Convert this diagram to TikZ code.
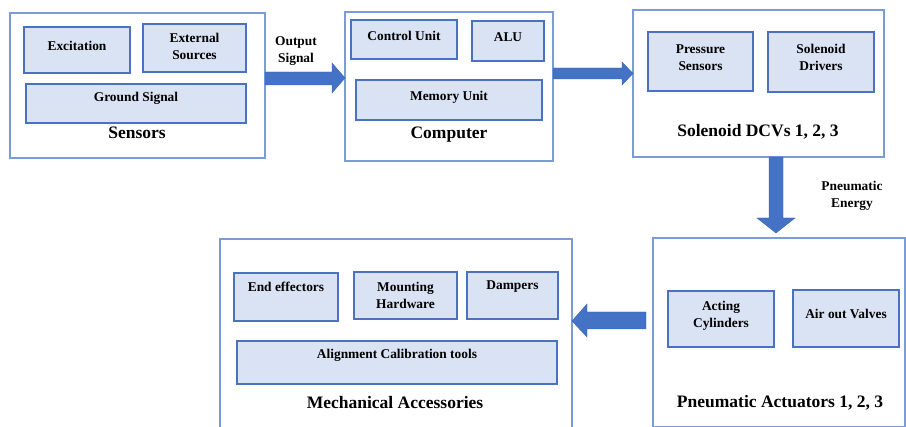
\documentclass[tikz,border=0pt]{standalone}
\usepackage{fontspec}
\setmainfont{Liberation Serif}
\definecolor{ifill}{HTML}{DAE3F3}
\definecolor{iline}{HTML}{4A72C0}
\definecolor{oline}{HTML}{7C9CD8}
\definecolor{afill}{HTML}{4472C4}
\definecolor{aline}{HTML}{3A63B0}
\begin{document}
\begin{tikzpicture}[x=1pt,y=-1pt,
  obox/.style={draw=oline,line width=1.1pt,fill=white,inner sep=0pt,outer sep=0pt,anchor=north west},
  ibox/.style={draw=iline,line width=1.4pt,fill=ifill,inner sep=0pt,outer sep=0pt,anchor=north west},
  itxt/.style={font=\bfseries\fontsize{13.4}{17}\selectfont,align=center,inner sep=0pt},
  mtxt/.style={font=\bfseries\fontsize{17.5}{20}\selectfont,inner sep=0pt},
  barrow/.style={fill=afill,draw=aline,line width=0.4pt}]
\useasboundingbox (0,0) rectangle (906,427);
% Sensors
\node[obox,minimum width=255pt,minimum height=145pt] (sens) at (10,13) {};
\node[ibox,minimum width=106pt,minimum height=46pt] (exc) at (24,27) {};
\node[ibox,minimum width=103pt,minimum height=48pt] (ext) at (143,24) {};
\node[ibox,minimum width=220pt,minimum height=39pt] (gnd) at (26,84) {};
\node[itxt] (excT) at (77,46) {Excitation};
\node[itxt] (extT) at (194.5,46.5) {External\\Sources};
\node[itxt] (gndT) at (136,98) {Ground Signal};
\node[mtxt] (sensT) at (137,133) {Sensors};
% Computer
\node[obox,minimum width=208pt,minimum height=149pt] (comp) at (345,12) {};
\node[ibox,minimum width=106pt,minimum height=39pt] (cu) at (351,20) {};
\node[ibox,minimum width=72pt,minimum height=40pt] (alu) at (472,21) {};
\node[ibox,minimum width=186pt,minimum height=40pt] (mem) at (356,80) {};
\node[itxt] (cuT) at (404,36) {Control Unit};
\node[itxt] (aluT) at (508,37) {ALU};
\node[itxt] (memT) at (449,97) {Memory Unit};
\node[mtxt] (compT) at (449,135) {Computer};
% Solenoid
\node[obox,minimum width=251pt,minimum height=147pt] (sol) at (633,10) {};
\node[ibox,minimum width=105pt,minimum height=59pt] (ps) at (648,32) {};
\node[ibox,minimum width=106pt,minimum height=60pt] (sd) at (768,32) {};
\node[itxt] (psT) at (700.5,57.5) {Pressure\\Sensors};
\node[itxt] (sdT) at (821,57.5) {Solenoid\\Drivers};
\node[mtxt] (solT) at (758,132) {Solenoid DCVs 1, 2, 3};
% Pneumatic actuators
\node[obox,minimum width=252pt,minimum height=189pt] (pa) at (653,238) {};
\node[ibox,minimum width=106pt,minimum height=56pt] (ac) at (668,291) {};
\node[ibox,minimum width=106pt,minimum height=57pt] (aov) at (793,290) {};
\node[itxt] (acT) at (721,315.5) {Acting\\Cylinders};
\node[itxt] (aovT) at (846,314) {Air out Valves};
\node[mtxt] (paT) at (780,403) {Pneumatic Actuators 1, 2, 3};
% Mechanical accessories
\node[obox,minimum width=352pt,minimum height=192pt] (ma) at (220,239) {};
\node[ibox,minimum width=104pt,minimum height=48pt] (ee) at (234,273) {};
\node[ibox,minimum width=103pt,minimum height=47pt] (mh) at (354,272) {};
\node[ibox,minimum width=91pt,minimum height=47pt] (dm) at (467,272) {};
\node[ibox,minimum width=320pt,minimum height=43pt] (al) at (237,341) {};
\node[itxt] (eeT) at (286,287) {End effectors};
\node[itxt] (mhT) at (405.5,295.5) {Mounting\\Hardware};
\node[itxt] (dmT) at (512.5,287) {Dampers};
\node[itxt] (alT) at (397,355) {Alignment Calibration tools};
\node[mtxt] (maT) at (395,403) {Mechanical Accessories};
% Block arrows
\draw[barrow] (sens.east |- 0,72) -- (332,72) -- (332,63) -- (comp.west |- 0,78) -- (332,93) -- (332,85) -- (sens.east |- 0,85) -- cycle;
\node[itxt] (osT) at (296,51.5) {Output\\Signal};
\draw[barrow] (comp.east |- 0,68) -- (622,68) -- (622,62) -- (sol.west |- 0,73.5) -- (622,85) -- (622,79) -- (comp.east |- 0,79) -- cycle;
\draw[barrow] (769,0 |- sol.south) -- (769,218) -- (757,218) -- (776,233) -- (795,218) -- (783,218) -- (783,0 |- sol.south) -- cycle;
\node[itxt] (peT) at (852,196) {Pneumatic\\Energy};
\draw[barrow] (646,312) -- (587,312) -- (587,304) -- (ma.east |- 0,321) -- (587,337) -- (587,329) -- (646,329) -- cycle;
\end{tikzpicture}
\end{document}
